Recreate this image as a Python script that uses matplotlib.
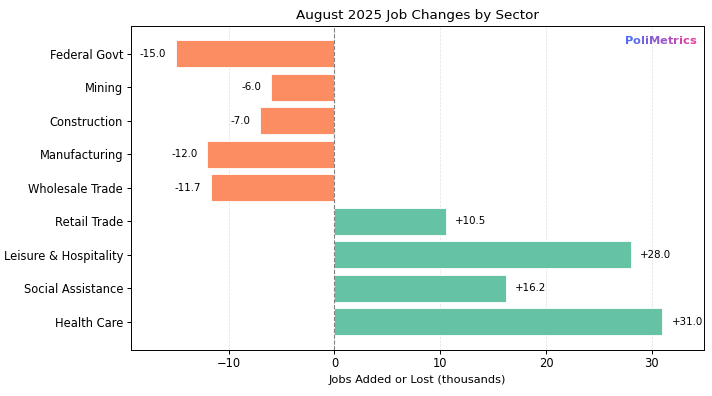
import numpy as np
import matplotlib
matplotlib.use('Agg')
import matplotlib.pyplot as plt
from matplotlib.colors import to_rgb

# 行业与就业变化（千人）
sectors = ['Federal Govt', 'Mining', 'Construction', 'Manufacturing', 'Wholesale Trade',
           'Retail Trade', 'Leisure & Hospitality', 'Social Assistance', 'Health Care']
changes = [-15.0, -6.0, -7.0, -12.0, -11.7, 10.5, 28.0, 16.2, 31.0]

neg_color = '#fc8d62'
pos_color = '#66c2a5'

plt.rcParams['axes.linewidth'] = 0.7
plt.rcParams['xtick.major.width'] = 0.7
plt.rcParams['ytick.major.width'] = 0.7
plt.rcParams['xtick.major.size'] = 3
plt.rcParams['ytick.major.size'] = 3

fig = plt.figure(figsize=(7.12, 3.96), dpi=100)
ax = fig.add_axes([0.1836, 0.1169, 0.8048, 0.8182])

y = np.arange(len(sectors))
colors = [neg_color if v < 0 else pos_color for v in changes]
ax.barh(y, changes, height=0.8, color=colors, edgecolor='white', linewidth=0.6, zorder=2)
ax.set_yticks(y)
ax.set_yticklabels(sectors)
ax.invert_yaxis()

for i, v in enumerate(changes):
    if v < 0:
        ax.text(v - 0.9, i, '%.1f' % v, ha='right', va='center', fontsize=7.4)
    else:
        ax.text(v + 0.9, i, '+%.1f' % v, ha='left', va='center', fontsize=7.4)

ax.axvline(0, color='gray', linestyle='--', linewidth=0.8, zorder=3)
ax.grid(axis='x', color='#cccccc', linestyle='--', linewidth=0.5, alpha=0.6, zorder=0)
ax.set_xlim(-19.25, 34.9)
ax.set_xticks([-10, 0, 10, 20, 30])
ax.set_xlabel('Jobs Added or Lost (thousands)', fontsize=8.2, labelpad=3)
ax.set_title('August 2025 Job Changes by Sector', fontsize=9.7, pad=5)
ax.tick_params(axis='both', labelsize=8.3, pad=2.5)

# 渐变色品牌文字
brand = 'PoliMetrics'
c0 = np.array(to_rgb('#4f6ef7'))
c1 = np.array(to_rgb('#ea3c9a'))
renderer = fig.canvas.get_renderer()
props = dict(fontsize=8.2, fontweight='bold', va='center')
full = ax.text(0, 0, brand, transform=ax.transAxes, **props)
total_w = full.get_window_extent(renderer).width
full.remove()
ax_bb = ax.get_window_extent(renderer)
x_end = ax_bb.x0 + 0.987 * ax_bb.width
x_start = x_end - total_w
y_px = ax_bb.y0 + 0.954 * ax_bb.height
for k, ch in enumerate(brand):
    if k > 0:
        t = ax.text(0, 0, brand[:k], transform=ax.transAxes, **props)
        off = t.get_window_extent(renderer).width
        t.remove()
    else:
        off = 0
    frac = k / (len(brand) - 1)
    col = c0 * (1 - frac) + c1 * frac
    xa, ya = ax.transAxes.inverted().transform((x_start + off, y_px))
    ax.text(xa, ya, ch, transform=ax.transAxes, color=col, ha='left', **props)

plt.savefig('out.png', dpi=100)
